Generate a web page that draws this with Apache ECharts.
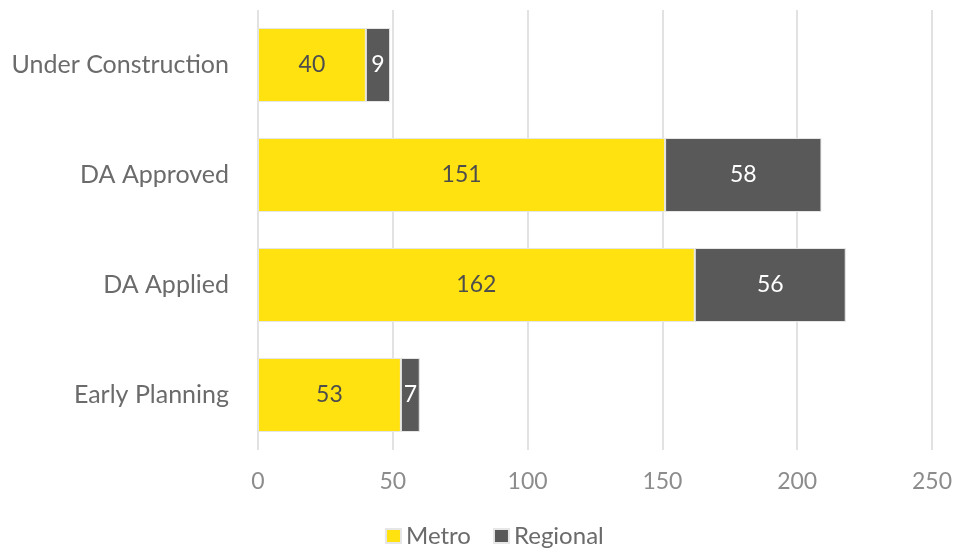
<!DOCTYPE html>
<html>
<head>
<meta charset="utf-8">
<script src="https://cdn.jsdelivr.net/npm/echarts@6/dist/echarts.min.js"></script>
<style>
  html, body { margin: 0; padding: 0; background: #ffffff; }
  #chart { width: 959px; height: 552px; }
</style>
</head>
<body>
<div id="chart"></div>
<script>
// Project stages, listed bottom to top as the category axis draws them
const stages = ['Early Planning', 'DA Applied', 'DA Approved', 'Under Construction'];
const metro = [53, 162, 151, 40];
const regional = [7, 56, 58, 9];
const xTicks = [0, 50, 100, 150, 200, 250];

const chart = echarts.init(document.getElementById('chart'), null, { renderer: 'canvas' });
const fontFamily = 'Lato, "Open Sans", sans-serif';

chart.setOption({
  animation: false,
  textStyle: { fontFamily: fontFamily },
  grid: { left: 258, right: 27, top: 10, bottom: 102, containLabel: false },
  legend: {
    top: 519,
    left: 380,
    itemWidth: 15,
    itemHeight: 14,
    itemGap: 22,
    icon: 'rect',
    textStyle: { fontFamily: fontFamily, fontSize: 24, color: '#6b6b6b', padding: [0, 0, 0, 0] },
    data: ['Metro', 'Regional']
  },
  xAxis: {
    type: 'value',
    min: xTicks[0],
    max: xTicks[xTicks.length - 1],
    interval: 50,
    axisLine: { show: false },
    axisTick: { show: false },
    axisLabel: { fontSize: 23, color: '#8c8c8c', margin: 20, fontFamily: fontFamily },
    splitLine: { show: true, lineStyle: { color: '#d9d9d9', width: 1.5 } }
  },
  yAxis: {
    type: 'category',
    data: stages,
    axisLine: { show: false },
    axisTick: { show: false },
    axisLabel: { fontSize: 25, color: '#6b6b6b', margin: 29, fontFamily: fontFamily }
  },
  series: [
    {
      name: 'Metro',
      type: 'bar',
      stack: 'total',
      barWidth: 74,
      data: metro,
      itemStyle: { color: '#ffe20f', borderColor: '#e6e6e6', borderWidth: 1 },
      label: { show: true, position: 'inside', fontSize: 23, color: '#4d4d4d', fontFamily: fontFamily }
    },
    {
      name: 'Regional',
      type: 'bar',
      stack: 'total',
      barWidth: 74,
      data: regional,
      itemStyle: { color: '#595959', borderColor: '#e6e6e6', borderWidth: 1 },
      label: { show: true, position: 'inside', fontSize: 23, color: '#ffffff', fontFamily: fontFamily }
    }
  ]
});
</script>
</body>
</html>
